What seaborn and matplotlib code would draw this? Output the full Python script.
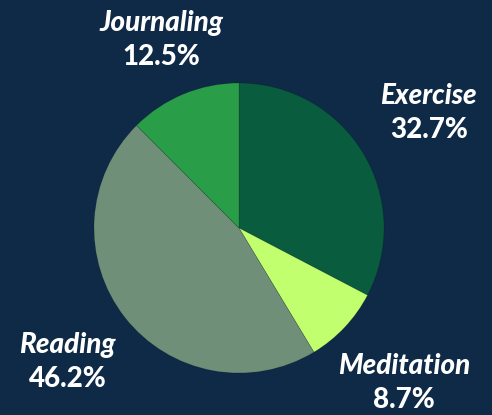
import numpy as np
import matplotlib
matplotlib.use("Agg")
import matplotlib.pyplot as plt
import seaborn as sns

categories = ["Exercise", "Meditation", "Reading", "Journaling"]
values = [32.7, 8.7, 46.2, 12.5]
colors = ["#0a5c3f", "#c2ff6e", "#6f8f78", "#2a9d48"]
label_dist = [1.53, 1.56, 1.50, 1.40]

BG = "#0e2a47"
sns.set_theme(style="white")
plt.rcParams["font.family"] = ["Lato", "DejaVu Sans"]

fig = plt.figure(figsize=(4.92, 4.15), dpi=100, facecolor=BG)
ax = fig.add_axes([0, 0, 1, 1])
ax.set_facecolor(BG)

pal = sns.color_palette(colors)
wedges, _ = ax.pie(values, colors=pal, startangle=90, counterclock=False,
                   radius=1.0, wedgeprops=dict(linewidth=0.6, edgecolor=(0, 0, 0, 0.15)))

total = sum(values)
cum = 0
for cat, v, d in zip(categories, values, label_dist):
    mid = np.deg2rad(90 - (cum + v / 2) / total * 360)
    cum += v
    x, y = d * np.cos(mid), d * np.sin(mid)
    ax.text(x, y + 0.117, cat, ha="center", va="center", color="white",
            fontsize=20, fontweight="black", fontstyle="italic")
    ax.text(x, y - 0.117, f"{v:.1f}%", ha="center", va="center", color="white",
            fontsize=20, fontweight="black")

s = 145.0
ax.set_aspect("auto")
ax.set_xlim(-239 / s, (492 - 239) / s)
ax.set_ylim(-(415 - 228) / s, 228 / s)
ax.axis("off")
fig.savefig("out.png", dpi=100, facecolor=BG)
